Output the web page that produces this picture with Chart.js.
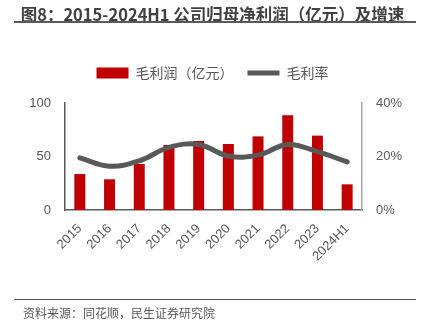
<!DOCTYPE html>
<html>
<head>
<meta charset="utf-8">
<script src="https://cdn.jsdelivr.net/npm/chart.js@4"></script>
<style>
  body { margin: 0; width: 425px; height: 322px; position: relative; background: #fff; overflow: hidden; }
  #title { position: absolute; left: 0; top: 2px; width: 425px; text-align: center; font: bold 16.5px "Noto Sans CJK SC", sans-serif; color: #404040; }
  #topline { position: absolute; left: 14px; top: 21px; width: 402px; height: 2px; background: #595959; }
  #bottomline { position: absolute; left: 14px; top: 299px; width: 402px; height: 1px; background: #595959; }
  #source { position: absolute; left: 23px; top: 304px; font: 12px "Noto Sans CJK SC", sans-serif; color: #595959; }
  #wrap { position: absolute; left: 0; top: 0; width: 425px; height: 322px; }
</style>
</head>
<body>
<div id="wrap"><canvas id="chart" width="425" height="322"></canvas></div>
<div id="title">图8：2015-2024H1 公司归母净利润（亿元）及增速</div>
<div id="topline"></div>
<div id="bottomline"></div>
<div id="source">资料来源：同花顺，民生证券研究院</div>
<script>
const years = ['2015', '2016', '2017', '2018', '2019', '2020', '2021', '2022', '2023', '2024H1'];
const grossProfit = [33.6, 28.7, 43, 60.7, 64.5, 61.7, 68.8, 88.5, 69.5, 24];
const grossMargin = [19.5, 16.4, 18.4, 23.4, 24.5, 20.2, 20.5, 24.5, 21.8, 18];
const leftTicks = [0, 50, 100];
const rightTicks = [0, 20, 40];

const tickFont = { family: '"Liberation Sans", sans-serif', size: 13 };

const ctx = document.getElementById('chart').getContext('2d');
new Chart(ctx, {
    data: {
        labels: years,
        datasets: [{
            type: 'line',
            label: '毛利率',
            data: grossMargin,
            yAxisID: 'y1',
            borderColor: '#595959',
            backgroundColor: '#595959',
            borderWidth: 5,
            borderCapStyle: 'round',
            pointRadius: 0,
            pointStyle: 'line',
            tension: 0.4,
            order: 0
        }, {
            type: 'bar',
            label: '毛利润（亿元）',
            data: grossProfit,
            yAxisID: 'y',
            backgroundColor: '#C00000',
            pointStyle: 'rect',
            barPercentage: 0.37,
            categoryPercentage: 1,
            order: 1
        }]
    },
    options: {
        responsive: false,
        animation: false,
        layout: { padding: { top: 52, left: 0, right: 0, bottom: 0 } },
        plugins: {
            legend: {
                position: 'top',
                reverse: true,
                labels: {
                    usePointStyle: true,
                    pointStyleWidth: 32,
                    boxHeight: 11,
                    padding: 14,
                    color: '#595959',
                    font: { family: '"Noto Sans CJK SC", sans-serif', size: 14 }
                }
            },
            // empty spacer between legend and plot
            subtitle: {
                display: true,
                text: '',
                weight: 500,
                font: { size: 1, lineHeight: 1 },
                padding: { top: 6, bottom: 6 }
            },
            tooltip: { enabled: false }
        },
        scales: {
            x: {
                grid: { display: false, drawTicks: false },
                border: { color: '#595959', width: 1.5 },
                ticks: { color: '#595959', font: tickFont, minRotation: 45, maxRotation: 45, padding: 11 },
                afterFit: scale => { scale.height = 112; }
            },
            y: {
                position: 'left',
                min: 0,
                max: 100,
                afterBuildTicks: scale => { scale.ticks = leftTicks.map(v => ({ value: v })); },
                grid: { display: false, drawTicks: false },
                border: { color: '#595959', width: 1.5 },
                ticks: { color: '#595959', font: tickFont, padding: 14 },
                afterFit: scale => { scale.width = 65; }
            },
            y1: {
                position: 'right',
                min: 0,
                max: 40,
                afterBuildTicks: scale => { scale.ticks = rightTicks.map(v => ({ value: v })); },
                grid: { display: false, drawOnChartArea: false, drawTicks: true, tickLength: 4, color: '#A6A6A6' },
                border: { color: '#A6A6A6', width: 1.5 },
                ticks: { color: '#595959', font: tickFont, padding: 10, callback: v => v + '%' },
                afterFit: scale => { scale.width = 63; }
            }
        }
    }
});
</script>
</body>
</html>
